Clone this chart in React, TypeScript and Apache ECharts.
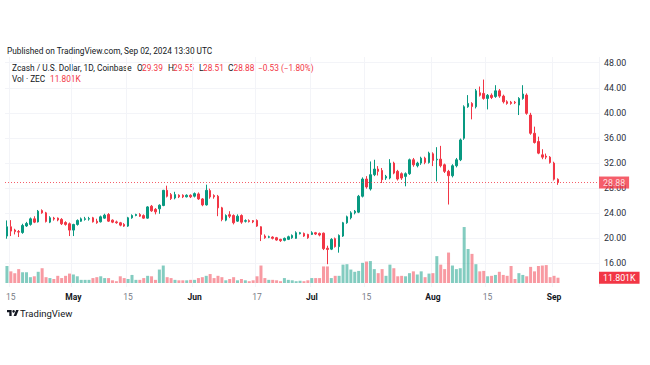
import React, { useEffect, useRef } from 'react';
import * as echarts from 'echarts';

// ---- data (daily candles, Coinbase ZEC/USD) ----
const START_DATE = '2024-04-14';
const PAD_BARS = 10; // empty bars to the right of the last candle

const opens = [
  20.34, 21.82, 21.30, 21.05, 20.90, 21.95, 22.20, 23.09, 22.60, 24.40,
  24.04, 22.56, 23.20, 23.20, 23.00, 22.50, 22.30, 21.29, 22.19, 22.70,
  23.00, 23.05, 23.25, 22.70, 22.61, 23.20, 23.78, 22.88, 22.60, 22.46,
  22.20, 21.93, 23.25, 23.62, 23.78, 23.60, 23.20, 25.10, 24.60, 24.68,
  25.21, 27.64, 26.95, 26.42, 26.85, 26.85, 26.60, 26.85, 26.70, 27.06,
  26.26, 25.31, 27.59, 26.80, 26.69, 24.84, 22.88, 23.75, 23.62, 22.72,
  23.62, 22.70, 22.80, 22.80, 22.83, 21.82, 20.34, 20.15, 20.18, 20.07,
  19.81, 19.65, 19.81, 20.07, 19.97, 20.71, 20.76, 20.60, 20.60, 20.87,
  20.76, 20.80, 18.40, 18.25, 19.92, 18.65, 20.34, 22.46, 23.25, 24.04,
  24.15, 26.69, 29.44, 27.85, 30.13, 31.03, 30.80, 29.60, 29.60, 31.98,
  30.66, 30.29, 29.86, 30.29, 32.51, 31.56, 31.98, 32.77, 32.08, 33.46,
  32.50, 32.61, 31.71, 30.66, 29.97, 31.56, 32.51, 35.95, 40.97, 41.50,
  40.97, 43.20, 43.10, 42.30, 42.80, 42.60, 43.51, 42.67, 41.77, 41.70,
  41.70, 41.24, 42.30, 42.83, 39.65, 36.74, 35.42, 33.30, 33.10, 32.93,
  31.98, 29.39,
];
const highs = [
  22.83, 22.88, 21.50, 21.30, 22.30, 22.60, 23.30, 23.50, 24.50, 24.60,
  24.20, 23.50, 23.40, 23.30, 23.20, 22.70, 22.50, 22.30, 23.00, 23.30,
  23.40, 23.40, 23.40, 23.10, 23.60, 23.90, 24.00, 23.00, 22.80, 22.60,
  22.40, 23.40, 23.80, 23.90, 24.00, 23.80, 25.10, 25.30, 24.80, 25.40,
  27.70, 28.38, 27.20, 27.40, 27.00, 27.00, 27.00, 27.00, 27.30, 27.30,
  26.40, 28.54, 27.90, 27.00, 26.90, 25.00, 23.80, 24.30, 23.80, 23.80,
  23.80, 23.00, 23.00, 22.90, 23.00, 21.90, 20.60, 20.40, 20.30, 20.20,
  19.90, 20.10, 20.40, 20.60, 21.10, 21.00, 20.90, 20.70, 21.10, 21.00,
  20.90, 20.90, 18.80, 20.00, 20.10, 20.60, 22.60, 23.60, 24.30, 24.50,
  26.90, 29.70, 29.90, 32.24, 32.51, 31.50, 31.20, 30.10, 32.61, 32.20,
  30.90, 30.50, 30.50, 32.70, 32.80, 32.20, 33.00, 33.00, 33.80, 33.70,
  34.52, 34.73, 31.90, 30.90, 31.80, 32.80, 35.90, 41.20, 42.83, 41.70,
  43.80, 44.20, 45.31, 43.00, 43.10, 44.41, 43.80, 42.90, 42.00, 41.90,
  41.90, 42.50, 44.41, 43.10, 40.00, 37.80, 36.20, 34.20, 33.50, 33.10,
  32.20, 29.55,
];
const lows = [
  19.92, 20.34, 20.60, 20.18, 20.70, 21.80, 22.00, 22.40, 22.50, 23.90,
  22.50, 22.40, 22.80, 22.70, 22.10, 22.00, 20.34, 20.34, 22.00, 22.60,
  22.80, 22.80, 22.50, 22.30, 22.50, 23.10, 22.60, 22.40, 22.30, 21.90,
  21.80, 21.80, 23.10, 23.50, 23.40, 23.10, 23.10, 24.20, 23.80, 23.90,
  25.10, 26.50, 26.10, 26.20, 26.40, 26.40, 26.50, 26.40, 26.50, 26.10,
  25.10, 25.20, 26.30, 26.30, 23.51, 22.70, 22.70, 23.20, 22.20, 22.60,
  22.30, 22.50, 22.50, 22.40, 21.80, 19.54, 19.90, 20.00, 19.80, 19.60,
  19.40, 19.50, 19.70, 19.90, 19.90, 20.60, 20.20, 19.90, 20.50, 20.50,
  20.30, 18.10, 15.85, 18.10, 18.50, 17.69, 20.20, 22.30, 23.00, 23.80,
  24.00, 26.50, 27.90, 27.60, 29.90, 30.00, 28.80, 29.30, 29.40, 30.20,
  29.20, 29.30, 28.28, 30.10, 31.40, 31.30, 31.70, 31.80, 31.90, 31.50,
  29.07, 31.30, 30.40, 25.37, 29.70, 31.30, 32.30, 35.70, 40.80, 38.96,
  40.70, 42.60, 42.10, 40.55, 42.20, 42.40, 42.40, 41.50, 41.30, 41.30,
  41.40, 39.65, 42.10, 39.70, 36.50, 35.10, 33.40, 32.60, 32.60, 31.90,
  29.20, 28.51,
];
const closes = [
  21.82, 21.13, 21.05, 20.97, 22.03, 22.35, 23.09, 22.56, 24.31, 24.04,
  22.67, 23.25, 23.05, 22.90, 22.30, 22.20, 21.29, 22.19, 22.83, 23.09,
  23.10, 23.12, 22.61, 22.46, 23.41, 23.67, 22.72, 22.56, 22.46, 22.08,
  21.93, 23.25, 23.62, 23.78, 23.51, 23.20, 24.99, 24.36, 24.20, 25.26,
  27.64, 26.69, 26.32, 26.95, 26.60, 26.60, 26.85, 26.60, 27.11, 26.26,
  25.31, 27.64, 26.58, 26.60, 24.84, 22.98, 23.62, 23.50, 22.46, 23.51,
  22.56, 22.80, 22.65, 22.60, 21.93, 20.60, 20.07, 20.22, 19.97, 19.70,
  19.60, 19.97, 20.23, 20.44, 20.87, 20.87, 20.34, 20.07, 20.87, 20.66,
  20.50, 18.33, 18.20, 19.81, 18.65, 20.44, 22.46, 23.41, 24.04, 24.31,
  26.69, 29.44, 28.17, 30.13, 31.03, 30.66, 29.33, 29.86, 31.98, 30.39,
  29.44, 29.60, 30.29, 32.51, 31.71, 31.98, 32.77, 32.08, 33.57, 32.40,
  32.60, 31.56, 30.66, 29.97, 31.56, 32.51, 35.68, 40.97, 41.50, 41.00,
  43.51, 42.80, 42.30, 42.80, 42.45, 43.51, 42.67, 41.77, 41.50, 41.50,
  41.60, 42.30, 43.00, 39.92, 36.74, 35.26, 33.57, 32.93, 32.93, 32.08,
  29.41, 28.88,
];
// volume in thousands of ZEC
const volumes = [
  38, 26, 22, 31, 24, 24, 13, 15, 25, 33,
  13, 11, 9, 16, 11, 16, 21, 19, 15, 7,
  7, 7, 11, 13, 15, 11, 11, 6, 4, 15,
  11, 9, 18, 7, 7, 11, 16, 15, 7, 30,
  39, 13, 11, 7, 6, 6, 6, 7, 7, 11,
  13, 16, 20, 11, 16, 13, 6, 9, 13, 6,
  9, 6, 4, 6, 15, 39, 11, 7, 7, 6,
  4, 11, 7, 6, 4, 5, 4, 6, 11, 11,
  11, 37, 37, 11, 16, 16, 41, 42, 30, 25,
  27, 45, 48, 49, 31, 22, 31, 16, 41, 33,
  15, 16, 15, 22, 26, 19, 26, 13, 21, 22,
  60, 41, 31, 68, 39, 31, 33, 125, 76, 65,
  42, 26, 27, 15, 16, 18, 25, 18, 16, 38,
  9, 22, 18, 15, 36, 26, 38, 39, 40, 13,
  16, 11.801,
];

const tickDates = ['2024-04-15', '2024-05-01', '2024-05-15', '2024-06-01', '2024-06-17',
  '2024-07-01', '2024-07-15', '2024-08-01', '2024-08-15', '2024-09-01'];
const tickTexts = ['15', 'May', '15', 'Jun', '17', 'Jul', '15', 'Aug', '15', 'Sep'];
const monthTicks = ['May', 'Jun', 'Jul', 'Aug', 'Sep'];
const priceTicks = [16, 20, 24, 28, 32, 36, 40, 44, 48];

// ---- styling ----
const UP = '#089981';
const DOWN = '#f23645';
const UP_VOL = 'rgba(8,153,129,0.5)';
const DOWN_VOL = 'rgba(242,54,69,0.5)';
const TEXT = '#131722';
const FONT = 'Roboto, "Noto Sans", sans-serif';

echarts.graphic.registerShape(
  'tvlogo',
  echarts.graphic.extendPath('M14 22H7V11H0V4h14v18zM28 22h-8l7.5-18h8L28 22z', {})
);

function buildDates(start: string, count: number): string[] {
  const base = new Date(start + 'T00:00:00Z').getTime();
  const out: string[] = [];
  for (let i = 0; i < count; i++) {
    out.push(new Date(base + i * 86400000).toISOString().slice(0, 10));
  }
  return out;
}

function buildOption() {
  const n = closes.length;
  const dates = buildDates(START_DATE, n + PAD_BARS);
  const tickMap: Record<string, string> = {};
  tickDates.forEach((d, i) => (tickMap[d] = tickTexts[i]));
  const isTick = (idx: number) => tickMap[dates[idx]] !== undefined;

  const candleData = dates.map((_, i) =>
    i < n ? [opens[i], closes[i], lows[i], highs[i]] : '-'
  );
  const volData = dates.map((_, i) =>
    i < n
      ? { value: volumes[i], itemStyle: { color: closes[i] >= opens[i] ? UP_VOL : DOWN_VOL } }
      : '-'
  );

  const last = n - 1;
  const o = opens[last], h = highs[last], l = lows[last], c = closes[last];
  const chg = c - closes[last - 1];
  const pct = (chg / closes[last - 1]) * 100;
  const sign = (v: number) => (v < 0 ? '\u2212' : '+') + Math.abs(v).toFixed(2);
  const lastVol = volumes[last];
  const volText = `${lastVol.toFixed(3)}K`;

  const hdrY2 = 68.3;
  const hdrY3 = 79;
  const seg = (text: string, x: number, y: number, fill: string) => ({
    type: 'text',
    x,
    y,
    silent: true,
    style: { text, fill, font: `8.3px ${FONT}`, verticalAlign: 'middle' },
  });

  return {
    animation: false,
    backgroundColor: '#ffffff',
    textStyle: { fontFamily: FONT },
    grid: [
      { left: 5, right: 51, top: 57, bottom: 78 },
      { left: 5, right: 51, top: 223, bottom: 82 },
    ],
    xAxis: [
      {
        type: 'category',
        gridIndex: 0,
        data: dates,
        boundaryGap: true,
        axisLine: { show: false },
        axisTick: { show: false },
        axisLabel: {
          interval: (idx: number) => isTick(idx),
          formatter: (v: string) => {
            const t = tickMap[v] || '';
            return monthTicks.includes(t) ? `{m|${t}}` : t;
          },
          margin: 5,
          fontSize: 8.5,
          color: '#787b86',
          fontFamily: FONT,
          rich: { m: { fontSize: 8.5, fontWeight: 'bold', color: TEXT, fontFamily: FONT } },
        },
        splitLine: {
          show: true,
          interval: (idx: number) => isTick(idx),
          lineStyle: { color: '#f3f4f8', width: 1 },
        },
      },
      {
        type: 'category',
        gridIndex: 1,
        data: dates,
        boundaryGap: true,
        axisLine: { show: false },
        axisTick: { show: false },
        axisLabel: { show: false },
        splitLine: { show: false },
      },
    ],
    yAxis: [
      {
        type: 'value',
        gridIndex: 0,
        position: 'right',
        min: 12.21,
        max: 48.91,
        axisLine: { show: false },
        axisTick: { show: false, customValues: priceTicks },
        axisLabel: {
          customValues: priceTicks,
          formatter: (v: number) => v.toFixed(2),
          margin: 5,
          fontSize: 8.8,
          color: '#2a2e39',
          fontFamily: FONT,
        },
        splitLine: { show: true, lineStyle: { color: '#f3f4f8', width: 1 } },
      },
      {
        type: 'value',
        gridIndex: 1,
        min: 0,
        max: 134,
        show: false,
        splitLine: { show: false },
      },
    ],
    series: [
      {
        type: 'bar',
        xAxisIndex: 1,
        yAxisIndex: 1,
        data: volData,
        barWidth: 3,
        z: 1,
        markLine: {
          silent: true,
          symbol: ['none', 'none'],
          data: [{ yAxis: lastVol }],
          lineStyle: { color: 'rgba(255,255,255,0)', width: 1, type: 'solid' },
          label: {
            show: true,
            position: 'end',
            distance: 0,
            formatter: () => volText,
            color: '#ffffff',
            backgroundColor: DOWN,
            padding: [2, 4, 1, 4],
            fontSize: 8.8,
            fontFamily: FONT,
          },
        },
      },
      {
        type: 'candlestick',
        xAxisIndex: 0,
        yAxisIndex: 0,
        data: candleData,
        barWidth: 2,
        z: 3,
        itemStyle: {
          color: UP,
          color0: DOWN,
          borderColor: UP,
          borderColor0: DOWN,
          borderWidth: 1,
        },
        markLine: {
          silent: true,
          symbol: ['none', 'none'],
          data: [{ yAxis: c }],
          lineStyle: { color: DOWN, type: [1, 2], width: 1, opacity: 0.8 },
          label: {
            show: true,
            position: 'end',
            distance: 0,
            formatter: () => c.toFixed(2),
            color: '#ffffff',
            backgroundColor: DOWN,
            padding: [2, 4, 1, 4],
            fontSize: 8.8,
            fontFamily: FONT,
          },
        },
      },
    ],
    graphic: [
      {
        type: 'text',
        x: 7,
        y: 50.7,
        silent: true,
        style: {
          text: 'Published on TradingView.com, Sep 02, 2024 13:30 UTC',
          fill: TEXT,
          font: `8.3px ${FONT}`,
          verticalAlign: 'middle',
        },
      },
      seg('Zcash / U.S. Dollar, 1D, Coinbase', 12, hdrY2, TEXT),
      seg('O', 137, hdrY2, TEXT),
      seg(o.toFixed(2), 142, hdrY2, DOWN),
      seg('H', 168, hdrY2, TEXT),
      seg(h.toFixed(2), 173, hdrY2, DOWN),
      seg('L', 199, hdrY2, TEXT),
      seg(l.toFixed(2), 203, hdrY2, DOWN),
      seg('C', 228, hdrY2, TEXT),
      seg(c.toFixed(2), 233.5, hdrY2, DOWN),
      seg(`${sign(chg)} (${sign(pct)}%)`, 258, hdrY2, DOWN),
      seg('Vol \u00b7 ZEC', 12, hdrY3, TEXT),
      seg(volText, 50, hdrY3, DOWN),
      {
        type: 'tvlogo',
        x: 7,
        y: 308.7,
        scaleX: 0.33,
        scaleY: 0.33,
        silent: true,
        style: { fill: TEXT },
      },
      {
        type: 'circle',
        silent: true,
        shape: { cx: 7 + 20 * 0.33, cy: 308.7 + 8 * 0.33, r: 4 * 0.33 },
        style: { fill: TEXT },
      },
      {
        type: 'text',
        x: 20,
        y: 313,
        silent: true,
        style: {
          text: 'TradingView',
          fill: TEXT,
          font: `9.5px ${FONT}`,
          verticalAlign: 'middle',
        },
      },
    ],
  };
}

export default function App() {
  const ref = useRef<HTMLDivElement>(null);
  useEffect(() => {
    if (!ref.current) return;
    const chart = echarts.init(ref.current, null, { renderer: 'svg' });
    chart.setOption(buildOption() as any);
    return () => chart.dispose();
  }, []);
  return (
    <div
      ref={ref}
      style={{ position: 'fixed', left: 0, top: 0, width: 650, height: 365, background: '#ffffff' }}
    />
  );
}
